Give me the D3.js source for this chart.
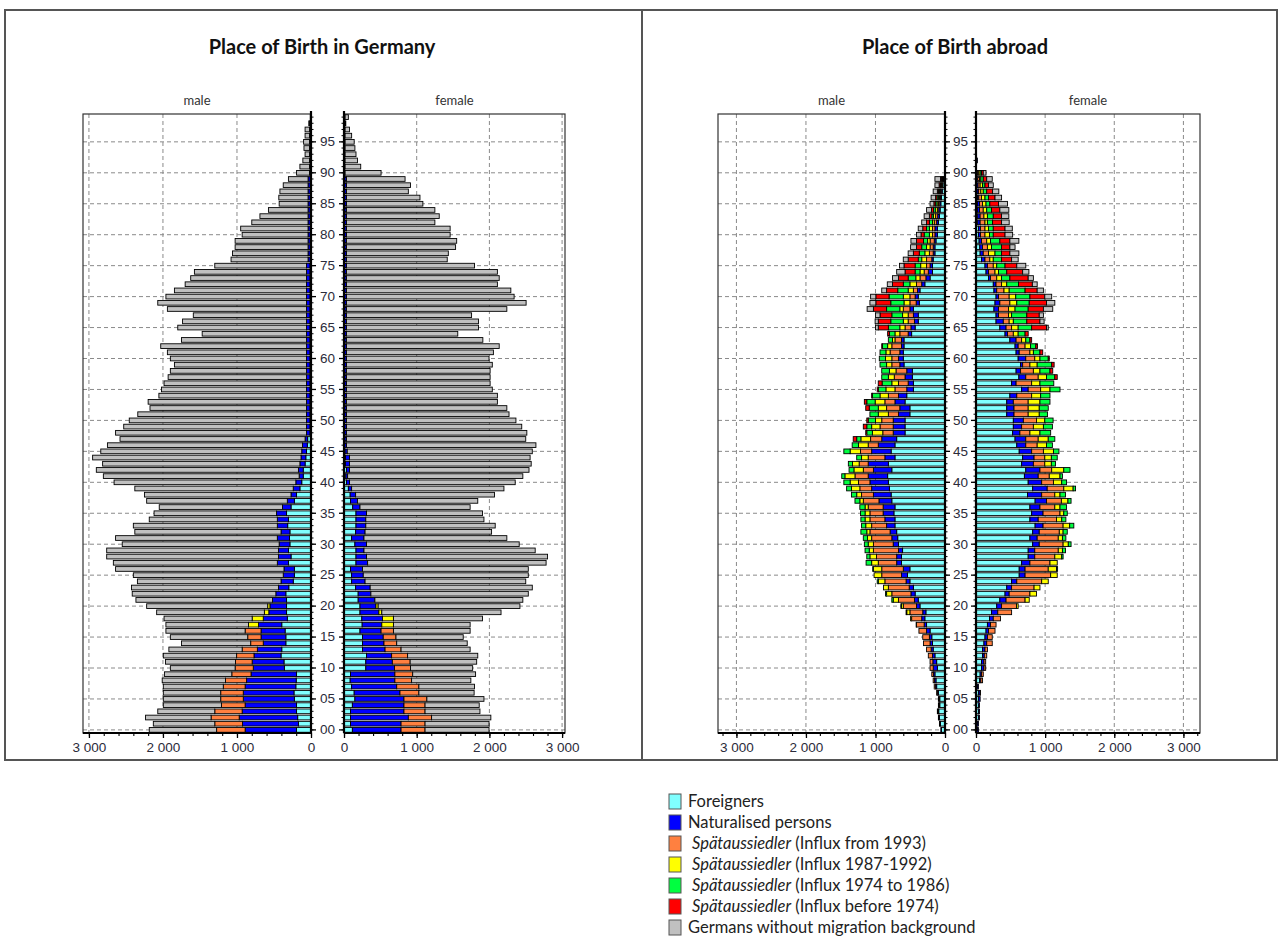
<!DOCTYPE html>
<html>
<head>
<meta charset="utf-8">
<title>Place of Birth in Germany / abroad</title>
<script src="https://d3js.org/d3.v7.min.js"></script>
<style>
  body { margin: 0; background: #fff; }
  svg text { font-family: Lato, "DejaVu Sans", sans-serif; }
  .tick text { font-family: "Liberation Sans", Arial, sans-serif; font-size: 13.5px; fill: #2b2b3a; }
</style>
</head>
<body>
<div id="chart"></div>
<script>
// ages 0..99, values in persons (thousands scale on the axis: 0 - 3 000)
var ages = d3.range(0, 100);
var keys = ["foreigners", "naturalised", "spaet93", "spaet8792", "spaet7486", "spaet74", "germans"];
var colors = ["#80ffff", "#0000ff", "#ff8040", "#ffff00", "#00ff40", "#ff0000", "#c0c0c0"];
var legendLabels = [
  ["", "Foreigners"],
  ["", "Naturalised persons"],
  ["Spätaussiedler", " (Influx from 1993)"],
  ["Spätaussiedler", " (Influx 1987-1992)"],
  ["Spätaussiedler", " (Influx 1974 to 1986)"],
  ["Spätaussiedler", " (Influx before 1974)"],
  ["", "Germans without migration background"]
];
var xTicks = [0, 1000, 2000, 3000];

// ---- Place of birth in Germany, male
var deMaleForeigners = [195,170,180,195,195,225,230,205,200,195, 360,365,405,395,340,340,350,395,320,330,
  330,330,340,300,240,225,225,305,270,305, 285,290,285,315,305,330,270,225,195,150,
  125,105,105,80,70,60,50,45,15,15, 15,15,15,15,15,15,15,15,15,15, 15,15,15,15,15,15,15,15,15,15,
  15,15,15,15,15,15,10,10,10,10, 10,10,10,10,10,10,10,10,10,10, 5,5,5,5,5,5,5,5,5,0];
var deMaleNaturalised = [695,755,790,735,695,690,685,685,670,615, 420,430,365,330,305,335,325,315,325,240,
  225,190,135,140,165,150,140,150,170,135, 145,165,120,140,150,135,115,95,75,90,
  80,55,65,70,65,65,65,35,45,45, 45,45,45,45,45,45,45,45,45,45, 45,45,45,45,45,45,45,45,45,45,
  45,45,45,45,45,45,30,30,30,30, 30,30,30,30,30,30,30,30,30,30, 15,15,15,15,15,15,15,15,15,5];
var deMaleSpaet93 = [385,375,380,370,320,305,305,295,285,260, 245,225,235,205,170,180,215,0,0,0];
var deMaleSpaet8792 = [0,0,0,0,0,0,0,0,0,0, 0,0,0,0,0,0,0,135,150,60, 30];
var deMaleGermans = [910,830,885,770,785,775,775,810,855,910, 875,945,990,990,935,1045,1070,1115,1190,1455,
  1635,1845,1940,1985,1940,2025,2275,2215,2320,2320, 2120,2185,1975,1945,1730,1655,1665,1900,1980,2140,
  2455,2645,2730,2665,2815,2715,2635,2500,2580,2470, 2395,2280,2115,2140,1995,1960,1925,1870,1840,1785,
  1840,1880,1970,1690,1410,1740,1675,1530,1880,2010, 1900,1785,1640,1565,1515,1240,1040,1020,985,985,
  890,910,760,650,535,390,395,380,335,265, 175,130,90,60,75,80,60,60,10,5];

// ---- Place of birth in Germany, female
var deFemaleForeigners = [115,90,90,90,115,150,140,105,85,90, 300,300,310,255,255,255,220,250,245,220,
  220,195,195,160,105,105,90,165,165,165, 150,105,160,165,165,165,120,90,85,60,
  35,25,35,20,20,15,10,10,10,10, 10,10,10,10,10,10,10,10,10,10, 10,10,10,10,10,10,10,10,10,10,
  10,10,10,10,10,10,10,10,10,10, 10,10,10,10,10,10,10,10,10,10, 5,5,5,5,5,5,5,5,5,5];
var deFemaleNaturalised = [670,695,795,735,710,675,630,620,615,610, 395,365,345,310,295,285,290,270,285,260,
  220,230,175,200,185,160,165,160,145,110, 160,170,130,135,135,145,100,95,75,45,
  40,25,40,55,55,30,25,25,25,25, 25,25,25,25,25,25,25,25,25,25, 25,25,25,25,25,25,25,25,25,25,
  25,25,25,25,25,25,25,25,25,25, 25,25,25,25,25,25,25,25,25,25, 10,10,10,10,10,10,10,10,10,10];
var deFemaleSpaet93 = [330,330,320,290,290,315,260,305,230,245, 220,245,220,220,175,175,170,0,0,0];
var deFemaleSpaet8792 = [0,0,0,0,0,0,0,0,0,0, 0,0,0,0,0,0,0,160,150,40, 30];
var deFemaleGermans = [880,880,815,755,745,785,760,765,815,865, 855,915,965,950,970,925,1055,1055,1225,1640,
  1950,2035,2165,2230,2210,2270,2280,2455,2490,2355, 2100,1965,1740,1780,1625,1595,1515,1655,1910,2095,
  2280,2410,2470,2500,2485,2545,2605,2465,2480,2410, 2330,2235,2205,2075,2075,2005,1975,1975,1975,2005,
  1960,2020,2100,1875,1530,1815,1815,1720,2205,2470, 2305,2260,2075,2100,2075,1760,1385,1400,1500,1515,
  1425,1425,1215,1275,1215,1050,1010,850,880,805, 495,215,170,150,135,125,90,60,10,45];

// ---- Place of birth abroad, male
var abMaleForeigners = [50,65,80,90,75,75,95,120,130,145, 110,120,145,170,180,190,215,265,290,275,
  360,385,430,455,505,540,505,625,625,610, 670,680,695,720,720,735,720,765,775,800,
  815,825,765,815,720,775,720,695,575,575, 575,505,505,575,550,455,455,470,470,590,
  600,600,590,590,480,430,385,385,455,370, 385,360,290,215,180,180,170,145,145,130,
  110,110,95,80,70,60,50,40,30,20];
var abMaleNaturalised = [10,10,10,10,10,10,15,20,20,20, 60,55,35,30,35,35,50,35,45,45,
  50,55,60,60,55,85,95,70,70,60, 75,85,95,120,145,155,170,185,255,255,
  265,280,265,290,145,280,240,215,170,170, 170,165,145,145,120,95,75,105,80,60,
  70,50,35,35,50,60,55,70,50,45, 45,35,45,60,60,35,20,25,25,25,
  35,35,25,25,20,15,15,15,10,10];
var abMaleSpaet93 = [0,5,5,10,10,10,10,15,20,25, 45,40,60,65,95,95,110,110,145,185,
  190,230,275,300,305,285,310,265,290,360, 285,290,290,215,215,190,215,225,170,170,
  165,190,145,130,240,160,145,160,150,190, 165,145,190,145,145,170,140,155,155,115,
  95,140,140,95,120,85,90,75,95,90, 75,60,75,85,60,50,75,55,45,60,
  35,35,35,30,20,20,15,10,10,5];
var abMaleSpaet8792 = [0,0,0,0,0,0,0,0,0,0, 0,0,0,0,0,0,0,5,15,45,
  25,75,75,70,95,110,120,95,95,60, 75,60,45,85,70,70,45,50,70,120,
  120,145,135,95,95,150,140,140,150,120, 90,145,120,140,120,130,95,85,95,75,
  90,60,60,35,70,75,70,80,50,85, 95,75,95,60,60,85,70,65,50,35,
  45,45,25,30,30,20,15,15,10,10];
var abMaleSpaet7486 = [0,0,0,0,0,0,0,0,0,0, 0,0,0,0,0,0,0,0,0,10,
  10,20,15,0,15,0,10,80,45,60, 55,60,85,60,60,65,75,70,75,70,
  90,45,70,60,70,90,90,60,80,70, 105,120,130,120,110,110,140,95,110,95,
  90,85,75,60,80,165,180,155,190,190, 205,150,95,110,70,80,50,80,70,60,
  75,40,45,25,25,20,20,15,10,10];
var abMaleSpaet74 = [0,0,0,0,0,0,0,0,0,0, 0,0,0,0,0,0,0,0,0,0,
  0,0,0,0,0,0,0,0,0,0, 0,0,0,0,0,0,0,0,0,0,
  0,0,0,0,0,0,0,50,15,50, 20,0,50,35,10,15,55,0,0,0,
  0,0,10,0,25,145,180,170,190,215, 190,160,155,140,145,160,145,85,75,100,
  45,55,40,35,30,25,20,15,15,10];
var abMaleGermans = [0,0,0,0,0,0,0,0,0,0, 0,0,0,0,0,0,0,0,0,0,
  0,0,0,0,0,0,0,0,0,0, 0,0,0,0,0,0,0,0,0,0,
  0,0,0,0,0,0,0,0,0,0, 0,0,0,0,0,0,0,0,0,0,
  0,0,0,0,0,40,45,65,90,85, 75,70,75,85,120,65,70,75,85,80,
  65,65,70,75,70,55,65,60,60,80];

// ---- Place of birth abroad, female
var abFemaleForeigners = [20,20,35,35,35,35,35,20,50,60, 80,80,95,95,115,130,145,165,195,225,
  300,345,420,445,515,625,625,660,755,755, 820,780,820,855,780,805,780,855,745,820,
  755,700,720,660,675,625,590,565,530,540, 540,445,445,445,490,660,515,620,580,645,
  610,580,565,490,420,345,290,290,260,275, 290,260,250,180,145,130,80,60,55,45,
  35,35,25,25,20,20,20,15,10,10, 5];
var abFemaleNaturalised = [15,15,15,15,15,25,25,15,20,20, 35,35,25,35,40,35,35,45,55,90,
  70,90,60,70,75,85,85,120,95,95, 95,105,95,115,120,165,145,165,205,210,
  195,200,205,170,165,180,130,155,105,120, 145,105,105,95,100,95,65,100,65,30,
  110,45,45,90,35,90,105,35,65,70, 35,40,40,30,35,35,50,45,40,35,
  30,30,35,35,30,30,20,20,20,15, 15,0,20];
var abFemaleSpaet93 = [0,0,0,0,0,0,5,0,25,25, 25,25,35,35,80,70,95,80,105,200,
  215,275,300,325,360,370,335,290,290,340, 345,305,290,290,265,245,215,215,190,240,
  170,160,170,165,155,170,165,180,145,170, 190,205,205,215,215,180,225,180,185,105,
  130,155,100,80,85,80,85,145,145,145, 155,105,80,90,95,85,70,75,70,75,
  65,65,70,55,55,45,40,35,30,25, 20];
var abFemaleSpaet8792 = [0,0,0,0,0,0,0,0,0,0, 0,0,0,0,0,0,0,0,0,0,
  25,60,95,85,95,95,120,105,100,60, 75,60,55,95,75,55,75,95,75,135,
  120,155,175,95,95,145,135,145,145,145, 120,160,160,170,130,135,120,120,95,105,
  75,50,80,60,70,95,60,45,95,100, 95,75,75,70,50,50,50,95,60,55,
  65,50,35,50,50,50,50,35,35,20, 20];
var abFemaleSpaet7486 = [0,0,0,0,0,0,0,0,0,0, 0,0,0,0,0,0,0,0,0,0,
  0,0,0,0,0,0,15,0,20,45, 40,50,60,60,60,50,95,45,80,35,
  70,35,90,60,85,80,85,95,155,130, 120,120,130,145,135,145,200,120,145,210,
  120,95,75,60,100,195,195,220,190,180, 205,230,170,120,120,120,120,95,145,135,
  55,70,75,85,70,55,50,50,35,35, 20];
var abFemaleSpaet74 = [0,0,0,0,0,0,0,0,0,0, 0,0,0,0,0,0,0,0,0,0,
  0,0,0,0,0,0,0,0,0,0, 0,0,0,0,0,0,0,0,0,0,
  0,0,0,0,0,0,0,0,0,0, 0,0,0,0,0,0,0,35,40,35,
  15,40,25,25,45,215,190,180,220,250, 215,175,200,265,230,170,145,120,120,145,
  170,170,130,120,120,125,95,85,50,50, 25];
var abFemaleGermans = [0,0,0,0,0,0,0,0,0,0, 0,0,0,0,0,0,0,0,0,0,
  0,0,0,0,0,0,0,0,0,0, 0,0,0,0,0,0,0,0,0,0,
  0,0,0,0,0,0,0,0,0,0, 0,0,0,0,0,0,0,0,0,0,
  0,0,0,0,0,25,60,60,135,120, 100,90,70,75,90,130,95,130,75,130,
  110,105,110,105,130,130,95,90,70,80, 40];

// build stack rows; missing entries count as 0
function makeRows(series) {
  return ages.map(function(a) {
    var r = {age: a};
    keys.forEach(function(k, i) {
      var s = series[i];
      r[k] = (s && s[a] != null) ? s[a] : 0;
    });
    return r;
  });
}

var panels = [
  {rows: makeRows([deMaleForeigners, deMaleNaturalised, deMaleSpaet93, deMaleSpaet8792, null, null, deMaleGermans]),
   x: d3.scaleLinear().domain([0, 3080]).range([311, 83]), side: "male", label: "male", gap: 33},
  {rows: makeRows([deFemaleForeigners, deFemaleNaturalised, deFemaleSpaet93, deFemaleSpaet8792, null, null, deFemaleGermans]),
   x: d3.scaleLinear().domain([0, 3040]).range([344, 565]), side: "female", label: "female"},
  {rows: makeRows([abMaleForeigners, abMaleNaturalised, abMaleSpaet93, abMaleSpaet8792, abMaleSpaet7486, abMaleSpaet74, abMaleGermans]),
   x: d3.scaleLinear().domain([0, 3265]).range([945, 718]), side: "male", label: "male", gap: 31},
  {rows: makeRows([abFemaleForeigners, abFemaleNaturalised, abFemaleSpaet93, abFemaleSpaet8792, abFemaleSpaet7486, abFemaleSpaet74, abFemaleGermans]),
   x: d3.scaleLinear().domain([0, 3240]).range([976, 1200]), side: "female", label: "female"}
];

var plotTop = 114, plotBottom = 733;
var y = d3.scaleBand().domain(ages).range([plotBottom, plotTop]).paddingInner(0.24).paddingOuter(0.12);

var svg = d3.select("#chart").append("svg")
  .attr("width", 1278).attr("height", 938);

svg.append("rect").attr("width", 1278).attr("height", 938).attr("fill", "#fff");

// outer boxes
svg.append("rect").attr("x", 5).attr("y", 10).attr("width", 637).attr("height", 750)
  .attr("fill", "none").attr("stroke", "#555").attr("stroke-width", 2);
svg.append("rect").attr("x", 642).attr("y", 10).attr("width", 635).attr("height", 750)
  .attr("fill", "none").attr("stroke", "#555").attr("stroke-width", 2);

// titles
svg.append("text").attr("x", 322).attr("y", 54).attr("text-anchor", "middle")
  .attr("font-size", 20).attr("font-weight", "bold").attr("fill", "#111").text("Place of Birth in Germany");
svg.append("text").attr("x", 955).attr("y", 54).attr("text-anchor", "middle")
  .attr("font-size", 20).attr("font-weight", "bold").attr("fill", "#111").text("Place of Birth abroad");

var stack = d3.stack().keys(keys);

panels.forEach(function(p) {
  var g = svg.append("g");
  var x = p.x;
  var r = x.range();
  var x0 = Math.min(r[0], r[1]), x1 = Math.max(r[0], r[1]);

  // sub title
  g.append("text").attr("x", (x0 + x1) / 2).attr("y", 105).attr("text-anchor", "middle")
    .attr("font-size", 13).attr("fill", "#333").text(p.label);

  // grid lines
  g.selectAll(".vgrid").data(xTicks.filter(function(d) { return d > 0; }))
    .enter().append("line")
    .attr("x1", function(d) { return x(d); }).attr("x2", function(d) { return x(d); })
    .attr("y1", plotTop).attr("y2", plotBottom)
    .attr("stroke", "#8a8a8a").attr("stroke-dasharray", "4,3");
  g.selectAll(".hgrid").data(d3.range(0, 100, 5))
    .enter().append("line")
    .attr("x1", x0).attr("x2", x1)
    .attr("y1", function(d) { return y(d) + y.bandwidth() / 2; })
    .attr("y2", function(d) { return y(d) + y.bandwidth() / 2; })
    .attr("stroke", "#8a8a8a").attr("stroke-dasharray", "4,3");

  // plot frame
  g.append("rect").attr("x", x0).attr("y", plotTop).attr("width", x1 - x0).attr("height", plotBottom - plotTop)
    .attr("fill", "none").attr("stroke", "#333").attr("stroke-width", 1.2);

  // stacked bars
  var layers = stack(p.rows);
  layers.forEach(function(layer, i) {
    g.append("g").selectAll("rect")
      .data(layer.filter(function(d) { return d[1] - d[0] > 0; }))
      .enter().append("rect")
      .attr("x", function(d) { return Math.min(x(d[0]), x(d[1])); })
      .attr("width", function(d) { return Math.abs(x(d[1]) - x(d[0])); })
      .attr("y", function(d) { return y(d.data.age); })
      .attr("height", y.bandwidth())
      .attr("fill", colors[i])
      .attr("stroke", "#000").attr("stroke-width", 0.9);
  });

  // x axis (bottom)
  var fmt = function(d) { return d === 0 ? "0" : d3.format(",")(d).replace(",", " "); };
  var xMinor = g.append("g").attr("transform", "translate(0," + plotBottom + ")")
    .call(d3.axisBottom(x).tickValues(d3.range(0, x.domain()[1], 200)).tickSize(3).tickFormat("").tickSizeOuter(0));
  xMinor.select(".domain").remove();
  var xAxis = g.append("g").attr("transform", "translate(0," + plotBottom + ")")
    .call(d3.axisBottom(x).tickValues(xTicks).tickSize(5).tickPadding(4).tickFormat(fmt).tickSizeOuter(0));
  xAxis.select(".domain").attr("d", "M" + x0 + ",0H" + x1).attr("stroke-width", 2);
  xAxis.selectAll("line").attr("stroke-width", 1.3);
  xMinor.selectAll("line").attr("stroke-width", 1.1);

  // age axis on the inner edge
  var zero = x(0);
  var isMale = p.side === "male";
  var axisFn = isMale ? d3.axisRight : d3.axisLeft;
  var minor = g.append("g").attr("transform", "translate(" + zero + ",0)")
    .call(axisFn(y).tickSize(2.5).tickFormat("").tickSizeOuter(0));
  minor.select(".domain").remove();
  var major = g.append("g").attr("transform", "translate(" + zero + ",0)")
    .call(axisFn(y).tickValues(d3.range(0, 100, 5)).tickSize(5).tickPadding(3)
      .tickFormat(isMale ? d3.format("02") : "").tickSizeOuter(0));
  major.select(".domain").attr("d", "M0," + (plotTop - 3) + "V" + plotBottom).attr("stroke-width", 2.2);
  major.selectAll("line").attr("stroke-width", 1.3);
  if (isMale) {
    major.selectAll("text").attr("x", p.gap / 2).attr("text-anchor", "middle");
  }
});

// legend
var legend = svg.append("g").attr("transform", "translate(669,794)");
var item = legend.selectAll("g").data(keys).enter().append("g")
  .attr("transform", function(d, i) { return "translate(0," + (i * 21) + ")"; });
item.append("rect").attr("width", 12).attr("height", 15)
  .attr("fill", function(d, i) { return colors[i]; })
  .attr("stroke", "#555").attr("stroke-width", 1);
var lt = item.append("text").attr("x", 19).attr("y", 13).attr("font-size", 16.5).attr("fill", "#222");
lt.append("tspan").attr("font-style", "italic").attr("dx", function(d, i) { return legendLabels[i][0] ? 4 : 0; })
  .text(function(d, i) { return legendLabels[i][0]; });
lt.append("tspan").text(function(d, i) { return legendLabels[i][1]; });
</script>
</body>
</html>
